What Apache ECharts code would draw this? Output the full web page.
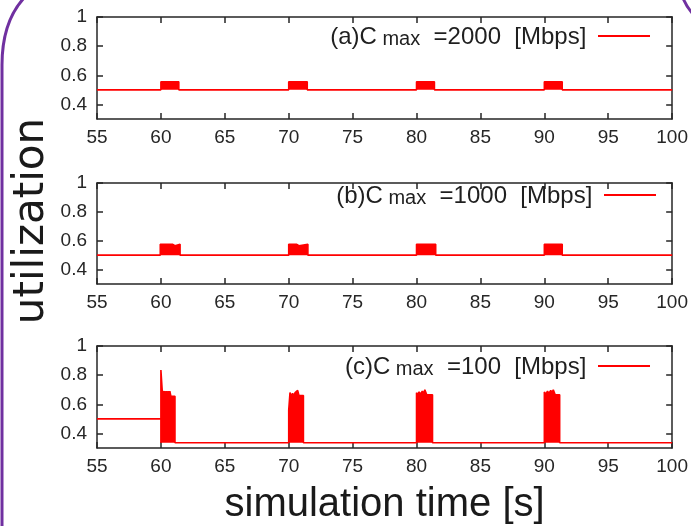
<!DOCTYPE html>
<html>
<head>
<meta charset="utf-8">
<script src="https://cdn.jsdelivr.net/npm/echarts@6/dist/echarts.min.js"></script>
<style>
  html, body { margin: 0; padding: 0; background: #ffffff; }
  #chart { width: 691px; height: 526px; }
</style>
</head>
<body>
<div id="chart"></div>
<script>
// ---- axis settings / tick labels ----
const xMin = 55;
const xMax = 100;
const xStep = 5;
const yMin = 0.3;
const yMax = 1;
const yTickValues = [0.4, 0.6, 0.8, 1];

// ---- panel labels ----
const panelNames = ['a', 'b', 'c'];
const panelTags = ['(a)', '(b)', '(c)'];
const panelCapacities = ['2000', '1000', '100'];
const yAxisTitle = 'utilization';
const xAxisTitle = 'simulation time [s]';

// ---- series values [time, utilization] ----
const utilA = [
  [55, 0.5], [60, 0.5], [60, 0.555], [60.8, 0.555], [60.82, 0.545], [60.86, 0.555],
  [61.0, 0.555], [61.02, 0.545], [61.05, 0.555], [61.4, 0.555], [61.4, 0.5],
  [70, 0.5], [70, 0.555], [71.45, 0.555], [71.45, 0.5],
  [80, 0.5], [80, 0.555], [81.4, 0.555], [81.4, 0.5],
  [90, 0.5], [90, 0.555], [90.4, 0.555], [90.42, 0.545], [90.46, 0.555],
  [90.8, 0.555], [90.82, 0.545], [90.85, 0.555], [91.4, 0.555], [91.4, 0.5],
  [100, 0.5]
];
const utilB = [
  [55, 0.5], [59.95, 0.5], [59.95, 0.575], [60.9, 0.575], [60.92, 0.565], [61.1, 0.565],
  [61.12, 0.575], [61.5, 0.575], [61.5, 0.5],
  [70, 0.5], [70, 0.575], [70.6, 0.575], [70.62, 0.565], [70.8, 0.565], [70.82, 0.575],
  [71.5, 0.575], [71.5, 0.5],
  [80, 0.5], [80, 0.575], [81.5, 0.575], [81.5, 0.5],
  [90, 0.5], [90, 0.575], [91.4, 0.575], [91.4, 0.5],
  [100, 0.5]
];
const utilCBefore = [[55, 0.5], [60, 0.5]];
const utilC = [
  [60, 0.336], [60, 0.835], [60.1, 0.825], [60.12, 0.67], [60.2, 0.66], [60.25, 0.69],
  [60.32, 0.67], [60.4, 0.69], [60.46, 0.67], [60.55, 0.69], [60.62, 0.67], [60.7, 0.69],
  [60.78, 0.655], [61.1, 0.655], [61.1, 0.336],
  [70, 0.336], [70, 0.56], [70.08, 0.56], [70.1, 0.68], [70.2, 0.655], [70.3, 0.675],
  [70.4, 0.66], [70.5, 0.68], [70.6, 0.67], [70.7, 0.695], [70.8, 0.66], [71.15, 0.66],
  [71.15, 0.336],
  [80, 0.336], [80, 0.68], [80.1, 0.665], [80.2, 0.685], [80.3, 0.67], [80.45, 0.69],
  [80.55, 0.675], [80.65, 0.70], [80.8, 0.665], [81.25, 0.665], [81.25, 0.336],
  [90, 0.336], [90, 0.685], [90.1, 0.67], [90.25, 0.69], [90.35, 0.675], [90.5, 0.695],
  [90.6, 0.68], [90.7, 0.70], [90.85, 0.665], [91.2, 0.665], [91.2, 0.336],
  [100, 0.336]
];

// ---- layout ----
const RED = '#ff0000';
const INK = '#262626';
const grids = [
  { left: 97, right: 17, top: 17, height: 102 },
  { left: 97, right: 17, top: 183, height: 101 },
  { left: 97, right: 17, top: 346, height: 102 }
];
const legendPos = [
  { right: 41, top: 25 },
  { right: 35, top: 184 },
  { right: 41, top: 355 }
];

const xAxes = [];
const yAxes = [];
grids.forEach((g, i) => {
  const tick = { show: true, inside: true, length: 6, lineStyle: { color: INK, width: 1.5 } };
  xAxes.push({
    type: 'value', gridIndex: i, min: xMin, max: xMax, interval: xStep, position: 'bottom',
    axisLine: { show: true, lineStyle: { color: INK, width: 1.5 } },
    axisTick: tick,
    axisLabel: { show: true, color: INK, fontSize: 19, fontFamily: 'Liberation Sans', margin: 9 },
    splitLine: { show: false },
    name: i === 2 ? xAxisTitle : '',
    nameLocation: 'middle',
    nameGap: 37,
    nameTextStyle: { fontSize: 40, color: '#1a1a1a', fontFamily: 'Liberation Sans' }
  });
  xAxes.push({
    type: 'value', gridIndex: i, min: xMin, max: xMax, interval: xStep, position: 'top',
    axisLine: { show: true, lineStyle: { color: INK, width: 1.5 } },
    axisTick: tick,
    axisLabel: { show: false },
    splitLine: { show: false }
  });
  yAxes.push({
    type: 'value', gridIndex: i, min: yMin, max: yMax, position: 'left',
    axisLine: { show: true, lineStyle: { color: INK, width: 1.5 } },
    axisTick: Object.assign({}, tick, { customValues: yTickValues }),
    axisLabel: {
      show: true, color: INK, fontSize: 19, fontFamily: 'Liberation Sans', margin: 10,
      customValues: yTickValues,
      formatter: v => String(+(+v).toFixed(1))
    },
    splitLine: { show: false }
  });
  yAxes.push({
    type: 'value', gridIndex: i, min: yMin, max: yMax, position: 'right',
    axisLine: { show: true, lineStyle: { color: INK, width: 1.5 } },
    axisTick: Object.assign({}, tick, { customValues: yTickValues }),
    axisLabel: { show: false },
    splitLine: { show: false }
  });
});

function lineSeries(name, panel, data, origin) {
  const s = {
    name: name, type: 'line', xAxisIndex: 2 * panel, yAxisIndex: 2 * panel,
    data: data, symbol: 'none', animation: false,
    lineStyle: { color: RED, width: 1.6 },
    itemStyle: { color: RED }
  };
  if (origin !== null) s.areaStyle = { color: RED, opacity: 1, origin: origin };
  return s;
}

const series = [
  lineSeries(panelNames[0], 0, utilA, 0.5),
  lineSeries(panelNames[1], 1, utilB, 0.5),
  lineSeries(panelNames[2], 2, utilCBefore, null),
  lineSeries(panelNames[2], 2, utilC, 0.336)
];

const legends = panelNames.map((n, i) => ({
  data: [n],
  right: legendPos[i].right,
  top: legendPos[i].top,
  padding: 0,
  icon: 'rect',
  itemWidth: 52,
  itemHeight: 2,
  align: 'right',
  selectedMode: false,
  formatter: () => `{m|${panelTags[i]}C}{s| max}{m|  =${panelCapacities[i]}  [Mbps] }`,
  textStyle: {
    color: '#1f1f1f',
    fontFamily: 'Liberation Sans',
    rich: {
      m: { fontSize: 24, fontFamily: 'Liberation Sans', color: '#1f1f1f', verticalAlign: 'bottom', lineHeight: 26 },
      s: { fontSize: 20, fontFamily: 'Liberation Sans', color: '#1f1f1f', verticalAlign: 'bottom', lineHeight: 26 }
    }
  }
}));

const chart = echarts.init(document.getElementById('chart'), null, { renderer: 'canvas' });
chart.setOption({
  backgroundColor: '#ffffff',
  animation: false,
  grid: grids,
  xAxis: xAxes,
  yAxis: yAxes,
  legend: legends,
  series: series,
  graphic: [
    {
      type: 'text', x: 32, y: 221, rotation: Math.PI / 2,
      style: {
        text: yAxisTitle, fontSize: 42, fontFamily: 'DejaVu Sans', fill: '#1a1a1a',
        textAlign: 'center', textVerticalAlign: 'middle'
      }
    },
    {
      type: 'bezierCurve', silent: true,
      shape: { x1: 24, y1: -2, cpx1: 2, cpy1: 22, x2: 2, y2: 65 },
      style: { fill: null, stroke: '#7030a0', lineWidth: 3 }
    },
    {
      type: 'line', silent: true,
      shape: { x1: 2, y1: 65, x2: 2, y2: 530 },
      style: { stroke: '#7030a0', lineWidth: 3 }
    },
    {
      type: 'bezierCurve', silent: true,
      shape: { x1: 683, y1: -2, cpx1: 686, cpy1: 6, x2: 693, y2: 14 },
      style: { fill: null, stroke: '#7030a0', lineWidth: 3 }
    }
  ]
});
</script>
</body>
</html>
